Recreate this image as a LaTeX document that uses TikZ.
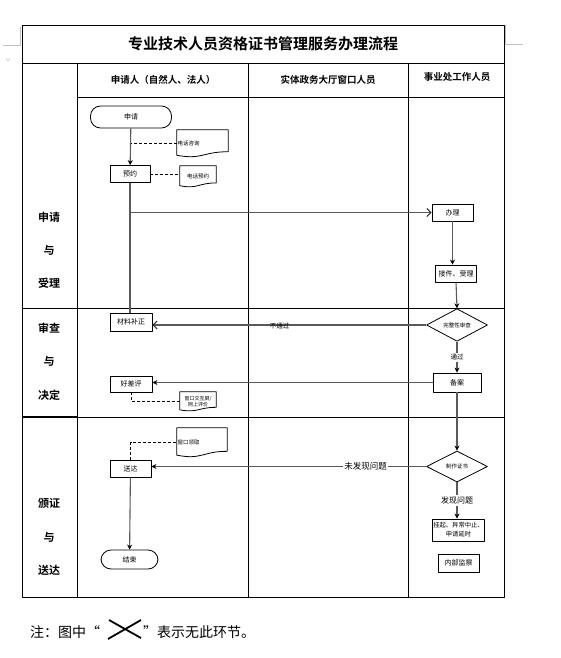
\documentclass[tikz,border=0pt]{standalone}
\usepackage{fontspec}
\newfontfamily\cjk{Noto Sans CJK SC}[BoldFont={Noto Sans CJK SC Bold}]
\usetikzlibrary{shapes.geometric,arrows.meta,calc}
\tikzset{
  frame/.style={line width=0.8pt},
  box/.style={draw,line width=0.8pt,inner sep=0.5pt,minimum width=41,minimum height=17,font=\cjk\fontsize{7}{8}\selectfont},
  term/.style={box,rounded corners=10pt},
  dia/.style={diamond,draw,line width=0.8pt,inner sep=0pt,minimum width=61,minimum height=31,font=\cjk\fontsize{5.5}{6}\selectfont},
  doc/.style={inner sep=0.5pt,font=\cjk\fontsize{5.5}{6.5}\selectfont},
  flow/.style={draw=black!65,line width=1.1pt},
  fillarrow/.style={-{Stealth[length=5pt,width=5pt,black]}},
  openarrow/.style={-{Straight Barb[length=4pt,width=8pt,black!80]}},
  dashline/.style={line width=0.8pt,dash pattern=on 3pt off 2pt},
  lbl/.style={inner sep=0.5pt,font=\cjk\fontsize{6.5}{7}\selectfont},
  lblw/.style={lbl,fill=white,inner sep=1.5pt},
  titletext/.style={font=\cjk\bfseries\fontsize{15}{16}\selectfont},
  headtext/.style={font=\cjk\bfseries\fontsize{9.5}{10}\selectfont},
  phase/.style={font=\cjk\bfseries\fontsize{11}{12}\selectfont},
  note/.style={inner sep=0pt,font=\cjk\fontsize{14}{15}\selectfont},
  cropmark/.style={draw=black!25,line width=0.6pt}
}
\newcommand{\docpath}[1]{%
  \draw[line width=0.8pt] (#1.north west) -- (#1.north east) -- ($(#1.north east)!0.8!(#1.south east)$)
    .. controls ($(#1.north)!0.8!(#1.south)$) and ($(#1.north)!1.1!(#1.south)$) .. ($(#1.north west)!0.93!(#1.south west)$) -- cycle;}
\begin{document}
\begin{tikzpicture}[x=1pt,y=-1pt,>=Stealth,line join=round,font=\cjk]
\path[use as bounding box] (0,0) rectangle (561,658);
\draw[cropmark] (505,25) -- (505,44) -- (523,44);
\draw[cropmark] (20,27) -- (20,45) -- (3,45);
\draw[cropmark,line width=0.5pt] (6,58) -- (8,61) -- (10,58);

\draw[frame] (22,25) rectangle (504,597);
\draw[frame] (22,63) -- (504,63);
\draw[frame] (77,97) -- (504,97);
\foreach \x in {77,248,408}{
  \draw[frame] (\x,63) -- (\x,597);
}
\draw[frame] (22,308) -- (504,308);
\draw[frame] (77,417) -- (504,417);
\draw[line width=2pt] (22,417) -- (77,417);

\node[titletext] (title) at (263,44) {专业技术人员资格证书管理服务办理流程};
\node[headtext] (head1) at (163,80) {申请人（自然人、法人）};
\node[headtext] (head2) at (328,80) {实体政务大厅窗口人员};
\node[headtext] (head3) at (457,77) {事业处工作人员};
\foreach \y/\t [count=\i] in {217/申请,250/与,283/受理,328/审查,361/与,395/决定,503/颁证,537/与,570/送达}{
  \node[phase] (phase\i) at (49,\y) {\t};
}

\node[term,minimum width=81,minimum height=22] (shenqing) at (131,117) {申请};
\node[doc,text width=50pt,minimum height=27,align=left] (zixun) at (202.5,143.5) {电话咨询};
\node[box,minimum width=40] (yuyue) at (130,174) {预约};
\node[doc,text width=35pt,minimum height=21,align=center] (yuyuedoc) at (198,176.5) {电话预约};
\node[box] (banli) at (452.5,212.5) {办理};
\node[box] (jiejian) at (456,273.5) {接件、受理};
\node[dia] (shencha) at (457,325) {完整性审查};
\node[box,minimum width=48,minimum height=19] (beian) at (457,382.5) {备案};
\node[box,minimum width=42,minimum height=18] (cailiao) at (131,322) {材料补正};
\node[box,minimum width=42,minimum height=16] (haocha) at (131,384) {好差评};
\node[doc,text width=35pt,minimum height=19,align=center,font=\cjk\fontsize{5}{6}\selectfont] (pingjia) at (198,401.5) {窗口交互屏/\\网上评价};
\node[dia] (zhizuo) at (457,466.5) {制作证书};
\node[box] (songda) at (130.5,468.5) {送达};
\node[doc,text width=49pt,minimum height=29,align=left] (lingqu) at (202,442.5) {窗口领取};
\node[term,minimum width=57,minimum height=19] (jieshu) at (129.5,559.5) {结束};
\node[box,minimum width=51,minimum height=22,align=center,font=\cjk\fontsize{6.3}{9}\selectfont] (guaqi) at (458.5,530) {挂起、异常中止、\\申请延时};
\node[box,minimum height=18] (jiancha) at (458.5,563) {内部监察};
\foreach \d in {zixun,yuyuedoc,pingjia,lingqu}{
  \docpath{\d}
}

\draw[flow,fillarrow] (shenqing) -- (yuyue);
\draw[dashline] (zixun.west) -- (zixun.west -| shenqing.south);
\draw[dashline] (yuyue.east) -- (yuyue.east -| yuyuedoc.west);
\draw[flow] (yuyue.south) -- (yuyue.south |- cailiao.north);
\draw[flow,openarrow] (yuyue.south |- banli.west) -- (banli.west);
\draw[flow,fillarrow] (banli) -- (banli |- jiejian.north);
\draw[flow,fillarrow] (jiejian.south) -- (shencha.north);
\draw[flow,fillarrow] (shencha) -- node[lblw]{通过} (beian);
\draw[flow,openarrow] (shencha.west) -- node[pos=.535,lbl,yshift=-1.5pt]{不通过} (shencha.west -| cailiao.east);
\draw[flow,fillarrow] (beian.west) -- (beian.west -| haocha.east);
\draw[dashline] (haocha.south) |- (pingjia.west);
\draw[flow,fillarrow] (beian) -- (zhizuo);
\draw[flow,fillarrow] (zhizuo.west) -- node[pos=.22,lblw,font=\cjk\fontsize{8.5}{9}\selectfont]{未发现问题} (zhizuo.west -| songda.east);
\draw[dashline] (songda.north) |- (lingqu.west);
\draw[flow,fillarrow] (songda) -- (jieshu);
\draw[flow,fillarrow] (zhizuo.south) -- node[lblw,font=\cjk\fontsize{8}{9}\selectfont]{发现问题} (zhizuo.south |- guaqi.north);

\node[note,anchor=west] (zhu) at (30,632) {注：图中“};
\node[note,anchor=west] (biaoshi) at (143,632) {”表示无此环节。};
\draw[line width=1.8pt] (109,620) -- (141,638) (108,639) -- (141,620);
\end{tikzpicture}
\end{document}
